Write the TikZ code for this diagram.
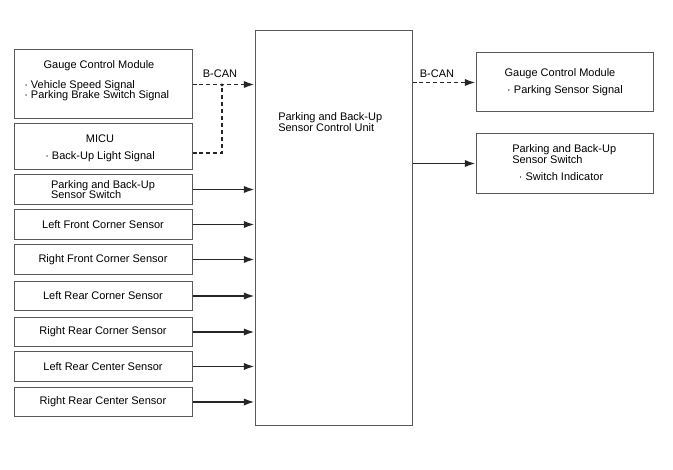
\documentclass[tikz,border=0pt]{standalone}
\usepackage{fontspec}
\setmainfont{Liberation Sans}
\usepackage{tikz}
\usetikzlibrary{arrows.meta}

\begin{document}
\begin{tikzpicture}[
  x=0.75pt, y=-0.75pt,
  every node/.style={font=\fontsize{8.25}{7.9}\selectfont, inner sep=0pt},
  box/.style={rectangle, draw=black!65, line width=0.75pt},
  sensor/.style={box, minimum width=133.5pt, minimum height=22pt},
  wire/.style={-{Latex[length=8pt, width=5.5pt]}, line width=1.3pt, draw=black!85},
  can/.style={wire, dash pattern=on 3pt off 2.2pt},
  txt/.style={align=left}
]
\useasboundingbox (0,0) rectangle (673,470);

% Control unit
\node[box, minimum width=117.75pt, minimum height=295.5pt] (cu) at (333.5, 228) {};
\node[txt, anchor=west] (cutxt) at (278, 122) {Parking and Back-Up\\Sensor Control Unit};

% Inputs over B-CAN
\node[box, minimum width=133.5pt, minimum height=51.75pt] (gaugeL) at (103, 84.5) {};
\node (gaugeLt) at (99, 66) {Gauge Control Module};
\node[txt, anchor=west] (gaugeLs) at (24, 90.5) {· Vehicle Speed Signal\\· Parking Brake Switch Signal};

\node[box, minimum width=133.5pt, minimum height=34.5pt] (micu) at (103, 147) {};
\node (micut) at (100, 139) {MICU};
\node (micus) at (100, 157) {· Back-Up Light Signal};

% Wired inputs
\node[sensor, txt] (sw) at (103, 189.5) {Parking and Back-Up\\Sensor Switch};
\node[sensor] (lfc) at (103, 224.5) {Left Front Corner Sensor};
\node[sensor] (rfc) at (103, 259.5) {Right Front Corner Sensor};
\node[sensor] (lrc) at (103, 296) {Left Rear Corner Sensor};
\node[sensor] (rrc) at (103, 332) {Right Rear Corner Sensor};
\node[sensor] (lrm) at (103, 366.5) {Left Rear Center Sensor};
\node[sensor] (rrm) at (103, 402) {Right Rear Center Sensor};

% Outputs
\node[box, minimum width=132.75pt, minimum height=44.25pt] (gaugeR) at (564.5, 82.5) {};
\node (gaugeRt) at (560, 74) {Gauge Control Module};
\node (gaugeRs) at (565, 91) {· Parking Sensor Signal};

\node[box, minimum width=132.75pt, minimum height=44.25pt] (swR) at (564.5, 163.5) {};
\node[txt, anchor=west] (swRt) at (512, 154) {Parking and Back-Up\\Sensor Switch};
\node (swRs) at (561, 177) {· Switch Indicator};

% B-CAN lines
\coordinate (jn) at (222, 85);
\node (canL) at (220, 74) {B-CAN};
\node (canR) at (437, 74) {B-CAN};
\draw[can] (gaugeL.east) -- (gaugeL.east -| cu.west);
\draw[can, -] ([yshift=-4.5pt]micu.east) -| (jn);
\fill[black!85] (jn) circle (1.3pt);
\draw[can] (cu.east |- gaugeR.west) -- (gaugeR.west);
\draw[wire] (cu.east |- swR.west) -- (swR.west);

% Sensor wires
\draw[wire] (sw.east) -- (sw.east -| cu.west);
\draw[wire] (lfc.east) -- (lfc.east -| cu.west);
\draw[wire] (rfc.east) -- (rfc.east -| cu.west);
\draw[wire] (lrc.east) -- (lrc.east -| cu.west);
\draw[wire] (rrc.east) -- (rrc.east -| cu.west);
\draw[wire] (lrm.east) -- (lrm.east -| cu.west);
\draw[wire] (rrm.east) -- (rrm.east -| cu.west);

\end{tikzpicture}
\end{document}
